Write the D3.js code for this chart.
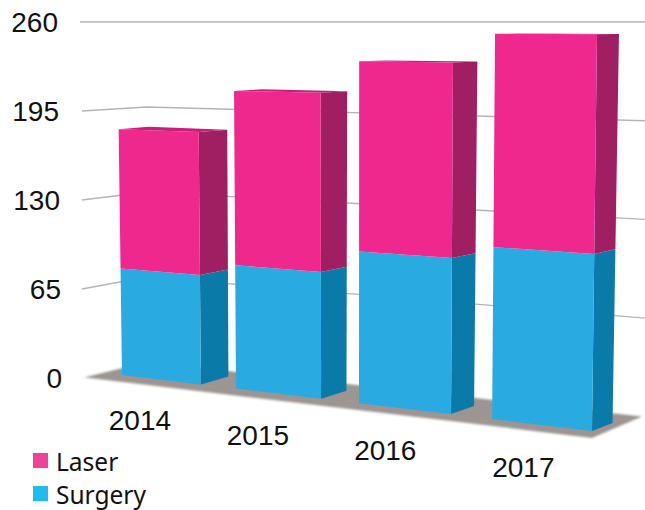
<!DOCTYPE html>
<html>
<head>
<meta charset="utf-8">
<script src="https://cdn.jsdelivr.net/npm/d3@7/dist/d3.min.js"></script>
<style>
html,body{margin:0;padding:0;background:#fff}
svg{display:block}
</style>
</head>
<body>
<svg id="chart" width="645" height="510"></svg>
<script>
const years = ["2014", "2015", "2016", "2017"];
const surgery = [78, 87, 103, 112];
const laser = [102, 123, 129, 139];
const yTicks = [0, 65, 130, 195, 260];
const seriesNames = ["Laser", "Surgery"];

const W = 645, H = 510;
const svg = d3.select("#chart").attr("viewBox", [0, 0, W, H]);
const colors = {
  Surgery: {front: "#29abe2", side: "#0a7aa9", top: "#0a7aa9", key: "#1fbcee"},
  Laser: {front: "#ee288d", side: "#a01f63", top: "#c81e78", key: "#ee4399"}
};

// Category position along the (foreshortened) front plane
const band = d3.scaleBand().domain(years).range([0, 3.7]).paddingInner(0.3).paddingOuter(0);
const perspective = u => 122 + u * 109.83 / (1 - 0.0366 * u);

// Normalised height
const vNorm = d3.scaleLinear().domain([0, 260]).range([0, 1]);
// Front baseline and side-depth vary along the screen x
const baseY = d3.scaleLinear().domain([122, 593]).range([375, 431]);
const depthX = d3.scaleLinear().domain([201, 593]).range([27.5, 20.5]);
const topY = 20;

function project(u, v, d) {
  const t = vNorm(v);
  const x0 = perspective(u);
  const y = baseY(x0) + (topY - baseY(x0)) * t;
  const lean = 0.0213 * (x0 - 350) * t;
  return [x0 + lean + d * (depthX(x0) + 1.5 * t), y - d * 8 * (1 - t)];
}

// Back wall
const wallCorner = d3.scaleLinear().domain([0, 260]).range([362, 22]);
const wallSlope = d3.scaleLinear().domain([0, 260]).range([0.11, 0]);
const stubY = d3.scaleLinear().domain([0, 260]).range([378, 22]);
const cornerX = 147, leftX = 82, rightX = 645;
const wallPts = v => v === 260
  ? [[leftX - 2, stubY(v)], [rightX, wallCorner(v)]]
  : [[leftX, stubY(v)], [cornerX, wallCorner(v)],
     [rightX, wallCorner(v) + wallSlope(v) * (rightX - cornerX)]];

const defs = svg.append("defs");
defs.append("filter").attr("id", "soft").attr("x", "-5%").attr("y", "-20%").attr("width", "110%").attr("height", "140%")
  .append("feGaussianBlur").attr("stdDeviation", 1.3);
defs.append("filter").attr("id", "line").attr("x", "-5%").attr("y", "-50%").attr("width", "110%").attr("height", "200%")
  .append("feGaussianBlur").attr("stdDeviation", 0.5);

const line = d3.line();

// Gridlines
svg.append("g").attr("filter", "url(#line)").selectAll("path")
  .data(yTicks.filter(v => v > 0)).join("path")
  .attr("d", v => line(wallPts(v)))
  .attr("fill", "none").attr("stroke", "#b4b4b4").attr("stroke-width", 1.4);

// Floor shadow
const floorPts = [
  wallPts(0)[0],
  wallPts(0)[1],
  [642, wallCorner(0) + wallSlope(0) * (642 - cornerX)],
  [592, baseY(592) + 7],
  [85, baseY(85) + 7]
];
svg.append("path").attr("d", line(floorPts) + "Z")
  .attr("fill", "#9c9591").attr("filter", "url(#soft)");

// Stacked bars
const table = years.map((y, i) => ({year: y, Surgery: surgery[i], Laser: laser[i]}));
const stacked = d3.stack().keys(["Surgery", "Laser"])(table);

const barG = svg.append("g").selectAll("g").data(years).join("g");
barG.each(function (year, i) {
  const g = d3.select(this);
  const u0 = band(year), u1 = u0 + band.bandwidth();
  stacked.forEach(s => {
    const [v0, v1] = s[i];
    const c = colors[s.key];
    // side
    g.append("path").attr("fill", c.side).attr("d", line([
      project(u1, v0, 0), project(u1, v0, 1), project(u1, v1, 1), project(u1, v1, 0)
    ]) + "Z");
    // front
    g.append("path").attr("fill", c.front).attr("d", line([
      project(u0, v0, 0), project(u1, v0, 0), project(u1, v1, 0), project(u0, v1, 0)
    ]) + "Z");
    // top of the stack
    if (s.key === "Laser") {
      g.append("path").attr("fill", c.top).attr("d", line([
        project(u0, v1, 0), project(u0, v1, 1), project(u1, v1, 1), project(u1, v1, 0)
      ]) + "Z");
    }
  });
});

// Y labels
const labelFont = "'Liberation Sans', Arial, sans-serif";
const labelRight = d3.scaleLinear().domain([0, 260]).range([62, 58]);
svg.append("g").selectAll("text").data(yTicks).join("text")
  .attr("x", labelRight)
  .attr("y", v => stubY(v) + 10)
  .attr("text-anchor", "end")
  .attr("font-family", labelFont).attr("font-size", 28).attr("fill", "#111")
  .text(d => d);

// X labels
const labelDx = d3.scaleLinear().domain([161, 542]).range([-21, -18]);
const labelDy = d3.scaleLinear().domain([161, 542]).range([50.5, 52.5]);
svg.append("g").selectAll("text").data(years).join("text")
  .attr("x", y => { const c = perspective(band(y) + band.bandwidth() / 2); return c + labelDx(c); })
  .attr("y", y => { const c = perspective(band(y) + band.bandwidth() / 2); return baseY(c) + labelDy(c); })
  .attr("text-anchor", "middle")
  .attr("font-family", labelFont).attr("font-size", 28).attr("fill", "#111")
  .text(d => d);

// Legend
const legendY = d3.scalePoint().domain(seriesNames).range([453, 486]);
const legend = svg.append("g").selectAll("g").data(seriesNames).join("g")
  .attr("transform", d => `translate(33,${legendY(d)})`);
legend.append("rect").attr("width", 15).attr("height", 15).attr("fill", d => colors[d].key);
legend.append("text").attr("x", 23).attr("y", 18)
  .attr("font-family", "'Noto Sans', sans-serif").attr("font-size", 24.5).attr("fill", "#111")
  .text(d => d);
</script>
</body>
</html>
